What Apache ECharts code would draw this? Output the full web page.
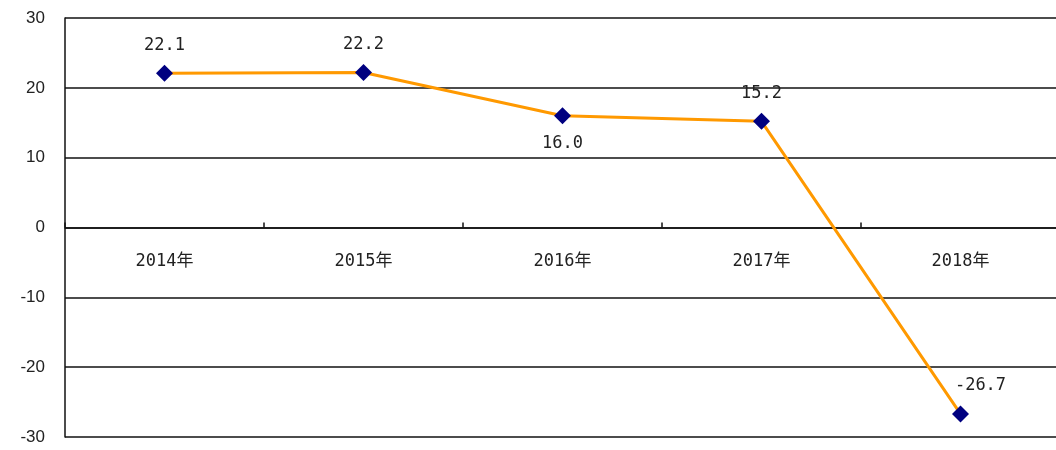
<!DOCTYPE html>
<html>
<head>
<meta charset="utf-8">
<script src="https://cdn.jsdelivr.net/npm/echarts@6/dist/echarts.min.js"></script>
<style>
  html, body { margin: 0; padding: 0; background: #fff; }
  #chart { width: 1056px; height: 450px; }
</style>
</head>
<body>
<div id="chart"></div>
<script>
const years = ["2014年", "2015年", "2016年", "2017年", "2018年"];
const growth = [22.1, 22.2, 16.0, 15.2, -26.7];
const labelPos = ["top", "top", "bottom", "top", "top"];

const chart = echarts.init(document.getElementById("chart"));

const points = growth.map((v, i) => {
  const item = { value: v, label: { position: labelPos[i] } };
  if (i === growth.length - 1) {
    item.label.offset = [20, 0];
  }
  return item;
});

// keep the category axis at the zero line, with its labels under it
const gridTop = 18;
const gridHeight = 419;
const zeroShift = -gridHeight / 2;

chart.setOption({
  animation: false,
  grid: { left: 65, top: gridTop, width: 995, height: gridHeight, outerBoundsMode: "none" },
  xAxis: {
    type: "category",
    data: years,
    boundaryGap: true,
    offset: zeroShift,
    axisLine: { onZero: false, lineStyle: { color: "#111", width: 1.5 } },
    axisTick: { show: true, inside: true, length: 5, lineStyle: { color: "#111", width: 1.5 } },
    axisLabel: {
      margin: 26,
      color: "#222",
      fontSize: 17,
      fontFamily: "DejaVu Sans Mono, Noto Sans CJK SC, monospace"
    }
  },
  yAxis: {
    type: "value",
    min: -30,
    max: 30,
    interval: 10,
    axisLine: { show: true, lineStyle: { color: "#111", width: 1.5 } },
    axisTick: { show: false },
    axisLabel: {
      margin: 20,
      color: "#222",
      fontSize: 17,
      fontFamily: "Liberation Sans, Arial, sans-serif"
    },
    splitLine: { lineStyle: { color: "#111", width: 1.5 } }
  },
  series: [{
    type: "line",
    data: points,
    symbol: "diamond",
    symbolSize: 17,
    itemStyle: { color: "#000080" },
    lineStyle: { color: "#FF9900", width: 3 },
    label: {
      show: true,
      distance: 11,
      color: "#222",
      fontSize: 17,
      fontFamily: "DejaVu Sans Mono, monospace",
      formatter: (p) => p.value.toFixed(1)
    }
  }]
});
</script>
</body>
</html>
